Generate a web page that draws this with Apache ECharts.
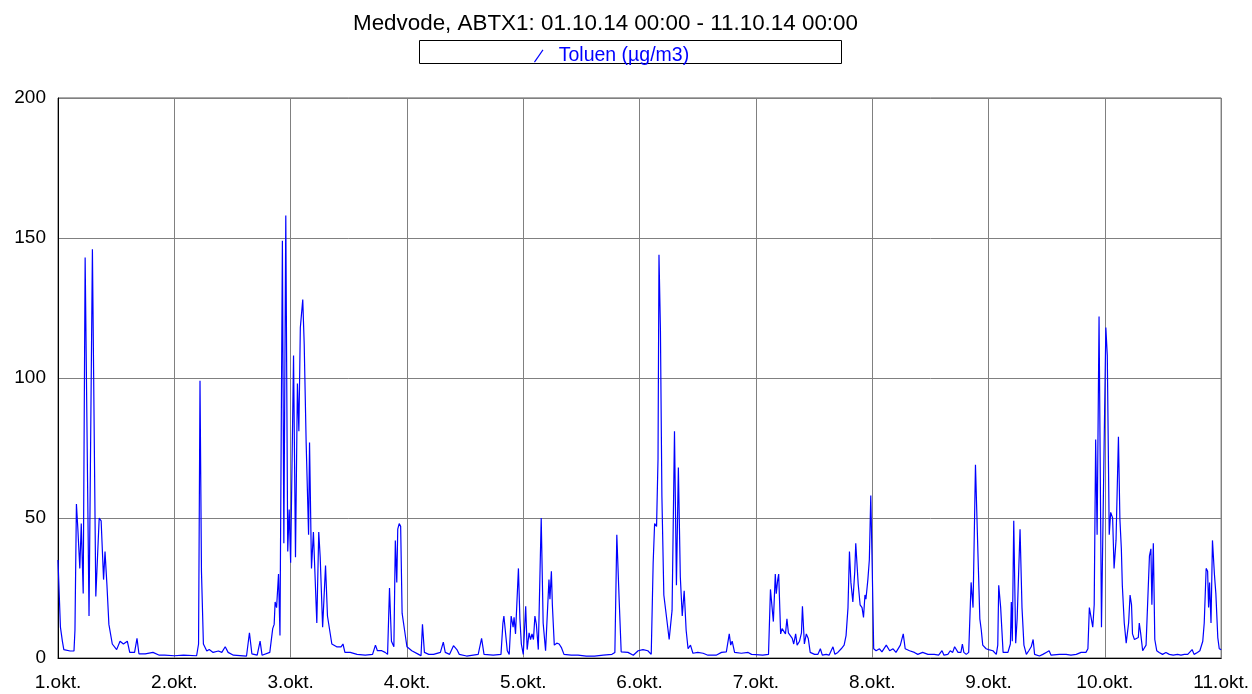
<!DOCTYPE html>
<html>
<head>
<meta charset="utf-8">
<script src="https://cdn.jsdelivr.net/npm/echarts@6/dist/echarts.min.js"></script>
<style>
  html, body { margin: 0; padding: 0; background: #fff; }
  #main { width: 1252px; height: 694px; }
</style>
</head>
<body>
<div id="main"></div>
<script>
var chartTitle = 'Medvode, ABTX1: 01.10.14 00:00 - 11.10.14 00:00';
var seriesName = 'Toluen (µg/m3)';
var yTicks = [0, 50, 100, 150, 200];
var dayLabels = ['1.okt.', '2.okt.', '3.okt.', '4.okt.', '5.okt.', '6.okt.', '7.okt.', '8.okt.', '9.okt.', '10.okt.', '11.okt.'];

// hours since 01.10.14 00:00
var hours = [
  0, 0.5, 0.9, 1.2, 2.5, 3.3, 3.5, 3.8, 4.1, 4.5, 4.8, 5.0, 5.2, 5.6, 6.4, 7.1, 7.8, 8.5, 8.9, 9.4, 9.7, 10.1, 10.5, 11.2, 12.1, 12.8, 13.5, 14.3, 14.8, 15.8, 16.3, 16.7, 18, 19.6, 20.9, 22, 24,
  25.9, 28.6, 29.0, 29.3, 29.6, 30.0, 30.7, 31.2, 32.0, 33.1, 33.8, 34.5, 35.1, 36.2, 38.9, 39.2, 39.5, 40.0, 41.1, 41.7, 42.1, 43.7, 44.3, 44.6, 44.8, 45.1, 45.3, 45.5, 45.8, 46.3, 46.6, 47.0, 47.4, 47.7, 48.0,
  48.6, 49.0, 49.4, 49.7, 50.0, 50.5, 50.8, 51.2, 51.7, 51.9, 52.3, 52.7, 53.0, 53.4, 53.8, 54.1, 54.6, 55.2, 55.6, 55.9, 56.5, 57.5, 58.4, 58.8, 59.2, 60.3, 61.7, 63.4, 64.9, 65.5, 65.9, 66.8, 67.5, 68.0, 68.4, 68.8, 69.3, 69.6, 69.9, 70.1, 70.4, 70.7, 71.0, 71.5, 72.0,
  73.0, 74.4, 74.9, 75.2, 75.6, 76.5, 77.5, 78.9, 79.5, 79.9, 80.8, 81.6, 82.3, 82.8, 84.3, 86.7, 87.4, 87.9, 89.8, 91.4, 91.8, 92.0, 92.4, 92.7, 93.1, 93.5, 93.9, 94.1, 94.4, 95.0, 95.3, 95.6, 96.0,
  96.5, 96.8, 97.2, 97.5, 97.8, 98.1, 98.4, 98.7, 99.1, 99.7, 100.1, 100.6, 101.0, 101.3, 101.5, 101.8, 102.0, 102.4, 102.9, 103.4, 103.9, 104.4, 105.9, 107.3, 109.0, 110.7, 112.5, 114.3, 114.9, 115.3, 115.8, 116.2, 117.6, 118.7, 119.7, 120.0,
  120.7, 121.7, 122.4, 122.8, 123.1, 123.5, 123.8, 124.0, 124.3, 124.6, 125.0, 125.4, 125.7, 126.1, 126.4, 126.7, 127.2, 127.6, 128.0, 128.4, 128.8, 129.2, 129.6, 130.0, 130.5, 131.0, 132.0, 133.1, 134.1, 135.8, 136.9, 137.9, 138.5, 138.8, 139.1, 139.6, 141.0, 142.4, 143.1, 144.0,
  145.4, 146.6, 147.0, 147.3, 147.6, 148.0, 148.2, 148.5, 148.7, 149.1, 149.4, 149.8, 150.1, 150.4, 150.7, 151.1, 151.5, 151.8, 152.2, 152.5, 153.0, 153.4, 153.6, 154.0, 154.4, 154.8, 155.2, 156.1, 156.8, 157.3, 157.7, 158.5, 159.1, 159.9, 160.3, 160.9, 161.6, 162.2, 162.6, 163.0, 163.3, 163.6, 164.0, 164.4, 164.6, 165.1, 165.5, 165.9, 166.2, 166.5, 166.7, 167.1, 167.4, 167.7, 168.0, 168.3,
  168.8, 169.5, 170.0, 170.9, 171.6, 172.3, 172.9, 173.8, 174.4, 174.8, 175.7, 176.7, 177.4, 178.4, 179.5, 180.8, 181.7, 182.4, 182.8, 183.6, 184.1, 184.6, 185.0, 185.7, 186.3, 186.6, 186.9, 187.4, 187.9, 188.4, 188.8, 189.3, 189.8, 190.2, 190.5, 190.8, 191.5, 192.0,
  192.9, 193.6, 193.9, 194.1, 194.5, 195.0, 196.0, 196.5, 196.7, 196.9, 197.0, 197.2, 197.6, 197.9, 198.5, 198.9, 199.3, 199.8, 200.3, 200.8, 201.2, 201.5, 202.5, 203.2, 203.9, 204.5, 204.9, 206.6, 208.0, 209.0, 210.1, 211.1, 212.1, 212.5, 212.8, 213.2, 213.5, 213.8, 214.1, 214.4, 214.8, 215.3, 215.7, 216.2, 216.5, 216.9,
  217.2, 217.6, 217.9, 218.3, 218.8, 219.1, 219.4, 219.6, 220.0, 220.4, 220.9, 221.2, 221.5, 221.7, 222.1, 222.5, 222.9, 223.1, 223.4, 223.8, 224.2, 224.5, 224.8, 225.2, 225.5, 225.7, 226.0, 226.3, 226.7, 227.2, 227.9, 228.6, 229.3, 230.1, 231.0, 231.7, 232.4, 233.1, 233.5, 234.0, 234.4, 235.1, 235.6, 236.2, 236.5, 236.9, 237.2, 237.4, 237.6, 237.9, 238.2, 238.6, 238.9, 239.3, 239.6, 240
];

var toluen = [
  35, 11, 6, 3, 2.5, 2.5, 10, 55, 46, 32, 48, 48, 23, 143, 15, 146, 22, 50, 49, 28, 38, 26, 12, 5, 3, 6, 5, 6, 2, 2, 7, 1.5, 1.5, 2, 1, 1, 0.8,
  1, 0.8, 5, 99, 31, 5, 2.5, 3, 2, 2.5, 2, 4, 2, 1, 0.7, 1, 9, 1.5, 1, 6, 1, 2, 10.5, 12, 20, 18, 24, 30, 8, 149, 41, 158, 38, 53, 34,
  108, 36, 98, 81, 118, 128, 112, 77, 44, 77, 32, 45, 31, 12.5, 45, 36, 11, 33, 15, 14.5, 5, 4, 4, 5, 2, 2, 1.3, 1, 1.3, 4.6, 2.6, 2.6, 2, 1.3, 25, 6, 4, 42, 27, 46, 48, 47, 16, 10, 4,
  2.6, 1.3, 0.8, 12, 2, 1.3, 1.3, 2, 5.7, 2, 1.3, 4.4, 3, 1.3, 0.7, 1.3, 7, 1.3, 1, 1.3, 12.5, 15, 15, 2.6, 1.3, 15, 11, 14.5, 8.6, 32, 14, 5, 1.3,
  18.5, 3, 9, 6.6, 8.6, 6.6, 15, 12, 3, 50, 12.5, 2.6, 2.6, 28, 21, 31, 19, 4.6, 5.3, 5, 3.6, 1.3, 1, 1, 0.7, 0.7, 1, 1.3, 2, 44, 20, 2.2, 2, 1, 2.6, 2.6,
  3, 2.6, 1.3, 34, 48, 47, 71, 144, 117, 58, 22.5, 22, 12.5, 6.6, 6, 17, 81, 26, 68, 29, 15, 24, 10, 3.3, 4.6, 1.7, 2, 1.7, 1, 1, 2, 2.2, 8.6, 4.6, 6, 2, 1.7, 2, 1.3, 1.2,
  1, 1.3, 24.5, 25, 13, 30, 23, 28, 30, 8.6, 10.5, 10, 8.6, 14, 9, 8.6, 7, 5, 8.6, 4.6, 6, 9, 18.5, 5, 8.6, 7, 2, 1.3, 1.3, 3.3, 1, 1.3, 1, 4, 1.3, 2, 3.3, 4.6, 8, 18, 38, 27, 20, 31, 41, 26.5, 19, 18, 14.5, 22.5, 21, 28, 35, 58, 32, 3.3,
  2.6, 3.3, 2.2, 4.6, 2.6, 3.3, 2, 4.6, 8.6, 3.3, 2.6, 2, 1.3, 2, 1.3, 1.3, 1, 2.6, 1, 1.3, 2.6, 2, 4, 2, 2, 5, 2, 1.3, 2, 27, 18, 69, 38, 14, 10, 4.6, 3.3, 3,
  2.6, 1.3, 4.6, 26, 18, 2, 2, 5, 20, 6, 6, 49, 5.3, 14, 46, 18, 4.6, 1.3, 2.6, 4, 6.6, 1.3, 0.7, 1.3, 2, 2.6, 1, 1.3, 1.3, 1, 1.3, 2, 2, 3.3, 18, 18, 11, 19, 78, 44, 122, 11, 10.5, 118, 108, 44,
  52, 50, 32, 42, 79, 49.6, 39, 26, 12.5, 5.3, 12.5, 22.5, 19, 8.6, 6.6, 6.6, 7.3, 12.5, 8.6, 2.6, 2.6, 4.6, 4, 36.5, 39, 19, 41, 6.6, 2.6, 2, 1.3, 2, 1.3, 1, 1.3, 1, 1.3, 1.3, 2, 3, 1.3, 2, 2.6, 6, 12.5, 32, 31, 18, 27, 12.5, 42, 30, 23, 7.3, 3.3, 3
];

var seriesData = hours.map(function (h, i) { return [h, toluen[i]]; });

var myChart = echarts.init(document.getElementById('main'));
var font = 'Liberation Sans, Arial, sans-serif';
option = {
    animation: false,
    title: {
        text: chartTitle,
        left: 348,
        top: 8,
        textStyle: { fontFamily: font, fontSize: 22.4, fontWeight: 'normal', color: '#000' }
    },
    legend: {
        data: [seriesName],
        left: 529,
        top: 41,
        itemWidth: 10,
        itemHeight: 13,
        icon: 'path://M0,13 L9,0 L10,0.8 L1,13.8 Z',
        textStyle: { fontFamily: font, fontSize: 19.5, color: '#0000ff', padding: [0, 0, 0, 10] }
    },
    graphic: [{
        type: 'rect',
        shape: { x: 419.5, y: 40.5, width: 422, height: 23 },
        style: { fill: 'none', stroke: '#000', lineWidth: 1 }
    }],
    grid: {
        left: 58,
        right: 30,
        top: 98,
        bottom: 36,
        show: true,
        borderColor: '#555',
        borderWidth: 1
    },
    xAxis: {
        type: 'value',
        min: 0,
        max: 240,
        interval: 24,
        axisLine: { lineStyle: { color: '#000' } },
        axisTick: { show: false },
        splitLine: { show: true, lineStyle: { color: '#808080', width: 1 } },
        axisLabel: {
            margin: 15,
            fontFamily: font,
            fontSize: 19,
            color: '#000',
            showMinLabel: true,
            showMaxLabel: true,
            formatter: function (v) { return dayLabels[Math.round(v / 24)]; }
        }
    },
    yAxis: {
        type: 'value',
        min: yTicks[0],
        max: yTicks[yTicks.length - 1],
        interval: 50,
        axisLine: { show: true, lineStyle: { color: '#000' } },
        axisTick: { show: false },
        splitLine: { show: true, lineStyle: { color: '#808080', width: 1 } },
        axisLabel: { margin: 12, fontFamily: font, fontSize: 19, color: '#000' }
    },
    series: [{
        name: seriesName,
        type: 'line',
        data: seriesData,
        showSymbol: false,
        symbol: 'none',
        color: '#0000ff',
        lineStyle: { color: '#0000ff', width: 1.2 }
    }]
};
myChart.setOption(option);
</script>
</body>
</html>
